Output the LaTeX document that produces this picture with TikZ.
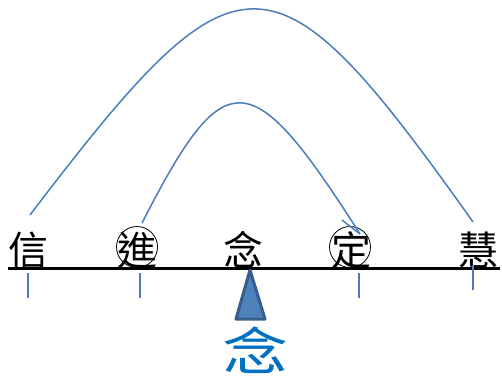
\documentclass[tikz,border=0pt]{standalone}
\usepackage{fontspec}
\newfontfamily\cjk{Noto Sans CJK TC}
\definecolor{arcblue}{HTML}{4A7EBB}
\definecolor{tridark}{HTML}{385D8A}
\definecolor{trifill}{HTML}{4F81BD}
\definecolor{txtblue}{HTML}{0070C0}
\begin{document}
\begin{tikzpicture}[x=1pt,y=-1pt,
  ch/.style={inner sep=0pt, font=\cjk\fontsize{40}{40}\selectfont},
  bigch/.style={inner sep=0pt, text=txtblue, font=\cjk\fontsize{51}{51}\selectfont},
  ring/.style={draw=black, line width=0.8pt, circle, minimum size=41pt, inner sep=0pt},
  arcline/.style={draw=arcblue, line width=1.5pt},
  tickline/.style={draw=arcblue, line width=1.2pt},
  baseline/.style={draw=black, line width=3pt}]
\useasboundingbox (0,0) rectangle (502,381);
% base line
\coordinate (L) at (8,268.5);
\coordinate (R) at (500,268.5);
\draw[baseline] (L) -- (R);
% characters
\node[ch] (xin) at (29,250) {信};
\node[ch] (jin) at (137,250) {進};
\node[ch] (nian) at (243,250) {念};
\node[ch] (ding) at (351,250) {定};
\node[ch] (hui) at (478,250) {慧};
% rings
\node[ring] (rjin) at (137,247) {};
\node[ring] (rding) at (350,247) {};
% ticks
\coordinate (t1a) at (28,273); \coordinate (t1b) at (28,298);
\coordinate (t2a) at (140,273); \coordinate (t2b) at (140,298);
\coordinate (t3a) at (359,273); \coordinate (t3b) at (359,298);
\coordinate (t4a) at (473,265); \coordinate (t4b) at (473,290);
\draw[tickline] (t1a) -- (t1b);
\draw[tickline] (t2a) -- (t2b);
\draw[tickline] (t3a) -- (t3b);
\draw[tickline] (t4a) -- (t4b);
% arcs
\coordinate (a1) at (30,215);
\coordinate (a2) at (473,222);
\coordinate (b1) at (142,223);
\coordinate (b2) at (360,234);
\coordinate (b3) at (342,220);
\draw[arcline] (a1) .. controls (240,-61) and (272,-61) .. (a2);
\draw[arcline] (b1) .. controls (225,61) and (250,61) .. (b2);
\draw[arcline] (b3) -- (b2);
% triangle
\coordinate (tA) at (250,270);
\coordinate (tB) at (236,319);
\coordinate (tC) at (265,319);
\filldraw[fill=trifill, draw=tridark, line width=3pt, line join=round] (tA) -- (tB) -- (tC) -- cycle;
% big blue character
\node[bigch] (big) at (256,350) {\scalebox{1.3}[1]{念}};
\end{tikzpicture}
\end{document}
